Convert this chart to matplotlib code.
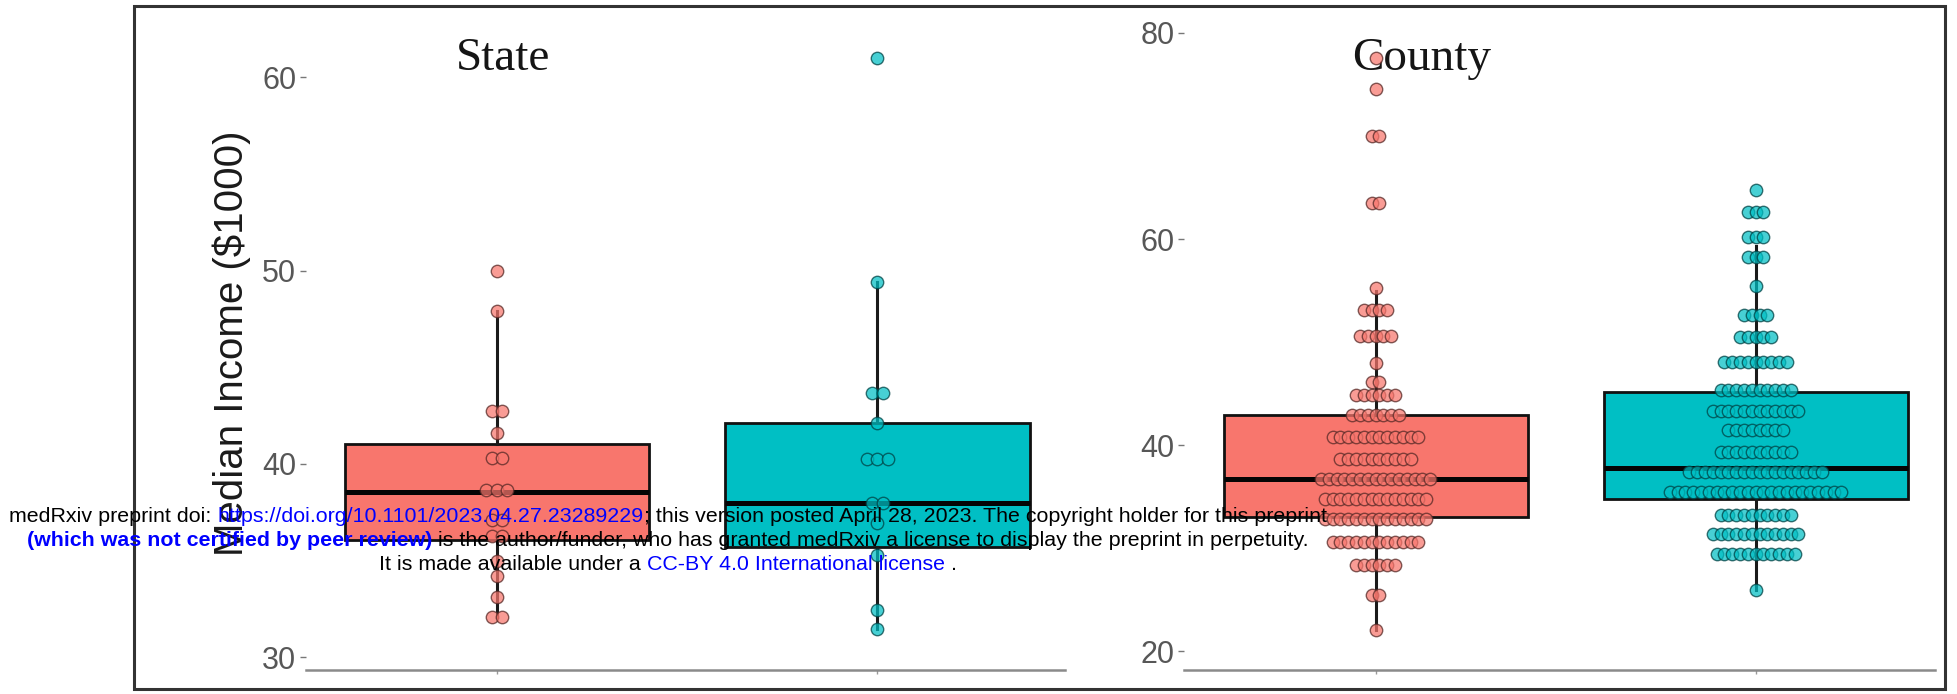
import numpy as np
import matplotlib.pyplot as plt
from matplotlib.patches import Rectangle

RED = "#F8766D"
TEAL = "#00BFC4"

# dot rows: value of each row and number of dots in it
state_red_vals = [50.0, 47.9, 42.75, 41.6, 40.3, 38.65, 37.1, 36.3, 35.0, 34.2, 33.1, 32.1]
state_red_counts = [1, 1, 2, 1, 2, 3, 2, 2, 1, 1, 1, 2]
state_teal_vals = [61.0, 49.4, 43.65, 42.1, 40.26, 37.97, 36.95, 35.3, 32.45, 31.46]
state_teal_counts = [1, 1, 2, 1, 3, 2, 1, 1, 1, 1]

county_red_vals = [77.6, 74.6, 70.0, 63.5, 55.2, 53.1, 50.6, 48.0, 46.1, 44.9,
                   42.9, 40.8, 38.6, 36.7, 34.8, 32.8, 30.6, 28.4, 25.4, 22.0]
county_red_counts = [1, 1, 2, 2, 1, 4, 5, 1, 2, 6, 7, 12, 10, 15, 14, 14, 12, 6, 2, 1]
county_teal_vals = [64.8, 62.65, 60.2, 58.3, 55.4, 52.6, 50.5, 48.1, 45.3, 43.3,
                    41.5, 39.35, 37.4, 35.4, 33.2, 31.4, 29.4, 25.9]
county_teal_counts = [1, 3, 3, 3, 1, 4, 5, 9, 10, 12, 8, 10, 18, 23, 10, 12, 11, 1]

# box stats: q1, median, q3, lower whisker, upper whisker
state_red_box = [36.07, 38.57, 41.03, 32.1, 47.9]
state_teal_box = [35.73, 37.97, 42.1, 31.46, 49.4]
county_red_box = [33.0, 36.75, 42.9, 22.0, 55.0]
county_teal_box = [34.8, 37.8, 45.1, 25.9, 59.3]

panel_titles = ["State", "County"]
state_ticks = [30, 40, 50, 60]
county_ticks = [20, 40, 60, 80]

W, H = 1958, 694
fig = plt.figure(figsize=(W / 100, H / 100), dpi=100)


def px_axes(x0, x1, y0, y1):
    # pixel box, y measured from the top
    return fig.add_axes([x0 / W, 1 - y1 / H, (x1 - x0) / W, (y1 - y0) / H])


def dot_rows(ax, xpos, vals, counts, color, step):
    xs, ys = [], []
    for v, n in zip(vals, counts):
        off = (np.arange(n) - (n - 1) / 2) * step
        xs.extend(xpos + off)
        ys.extend([v] * n)
    fc = plt.matplotlib.colors.to_rgba(color, 0.72)
    dark = tuple(c * 0.35 for c in plt.matplotlib.colors.to_rgb(color)) + (0.75,)
    ax.scatter(xs, ys, s=80, facecolors=[fc], edgecolors=[dark], linewidths=1.0, zorder=4)


def panel(ax, boxes, rows, xlim, ylim, yticks, step, title, tx):
    ax.set_xlim(*xlim)
    ax.set_ylim(*ylim)
    stats = [dict(q1=b[0], med=b[1], q3=b[2], whislo=b[3], whishi=b[4], fliers=[]) for b in boxes]
    bp = ax.bxp(stats, positions=[1, 2], widths=0.8, patch_artist=True,
                showcaps=False, showfliers=False,
                boxprops=dict(linewidth=2.0, edgecolor="#111111"),
                whiskerprops=dict(linewidth=2.2, color="#1a1a1a"),
                medianprops=dict(linewidth=3.6, color="#050505"))
    for patch, c in zip(bp["boxes"], [RED, TEAL]):
        patch.set_facecolor(c)
        patch.set_zorder(2)
    for med in bp["medians"]:
        med.set_zorder(3)
    for (vals, counts), c, xp in zip(rows, [RED, TEAL], [1, 2]):
        dot_rows(ax, xp, vals, counts, c, step)

    for s in ["left", "top", "right"]:
        ax.spines[s].set_visible(False)
    ax.spines["bottom"].set_color("#8a8a8a")
    ax.spines["bottom"].set_linewidth(1.8)
    ax.set_yticks(yticks)
    ax.set_xticks([1, 2])
    ax.set_xticklabels(["", ""])
    ax.tick_params(axis="y", length=4, width=1.0, color="#777777", pad=3,
                   labelsize=22, labelcolor="#575757")
    ax.tick_params(axis="x", length=3, width=1.0, color="#999999")
    for lab in ax.get_yticklabels():
        lab.set_family("Liberation Sans")
    ax.patch.set_visible(False)
    ax.text(tx, 0.923, title, transform=ax.transAxes, ha="center", va="baseline",
            fontsize=34, family="Liberation Serif", color="#151515", zorder=1)


ax1 = px_axes(306, 1065, 20, 670)
ax2 = px_axes(1184, 1935, 20, 670)

panel(ax1, [state_red_box, state_teal_box],
      [(state_red_vals, state_red_counts), (state_teal_vals, state_teal_counts)],
      (0.498, 2.493), (29.35, 62.95), state_ticks, 0.0276, panel_titles[0], 0.26)
panel(ax2, [county_red_box, county_teal_box],
      [(county_red_vals, county_red_counts), (county_teal_vals, county_teal_counts)],
      (0.496, 2.472), (18.16, 81.26), county_ticks, 0.0205, panel_titles[1], 0.317)

fig.text(232 / W, 1 - 343 / H, "Median Income ($1000)", rotation=90, ha="center", va="center",
         fontsize=29, family="Liberation Sans", color="#1a1a1a")

# outer frame
fig.patches.append(Rectangle((134 / W, 1 - 689 / H), (1945 - 134) / W, (689 - 6) / H,
                             transform=fig.transFigure, fill=False, ec="#333333", lw=2.2))

# medRxiv watermark, drawn as coloured runs
BLUE = "#0000FF"
wm_lines = [
    [("medRxiv preprint doi:", "black", "normal", 0),
     ("https://doi.org/10.1101/2023.04.27.23289229", BLUE, "normal", 1),
     ("; this version posted April 28, 2023. The copyright holder for this preprint", "black", "normal", 0)],
    [("(which was not certified by peer review)", BLUE, "bold", 0),
     ("is the author/funder, who has granted medRxiv a license to display the preprint in perpetuity.",
      "black", "normal", 1)],
    [("It is made available under a", "black", "normal", 0),
     ("CC-BY 4.0 International license", BLUE, "normal", 1),
     (".", "black", "normal", 1)],
]
wm_y = [517, 541, 564]
wm_size = 15.4

renderer = fig.canvas.get_renderer()
t1 = fig.text(0, 0, "x x", fontsize=wm_size, family="Liberation Sans")
t2 = fig.text(0, 0, "xx", fontsize=wm_size, family="Liberation Sans")
space = t1.get_window_extent(renderer).width - t2.get_window_extent(renderer).width
t1.remove()
t2.remove()

for runs, y in zip(wm_lines, wm_y):
    texts, widths = [], []
    for s, c, wgt, gap in runs:
        t = fig.text(0, 1 - y / H, s, color=c, fontsize=wm_size, fontweight=wgt,
                     family="Liberation Sans", ha="left", va="center", zorder=10)
        texts.append(t)
        widths.append(t.get_window_extent(renderer).width + gap * space)
    x = 668 - sum(widths) / 2
    for t, w, run in zip(texts, widths, runs):
        x += run[3] * space
        t.set_x(x / W)
        x += w - run[3] * space

fig.savefig("out.png", dpi=100)
